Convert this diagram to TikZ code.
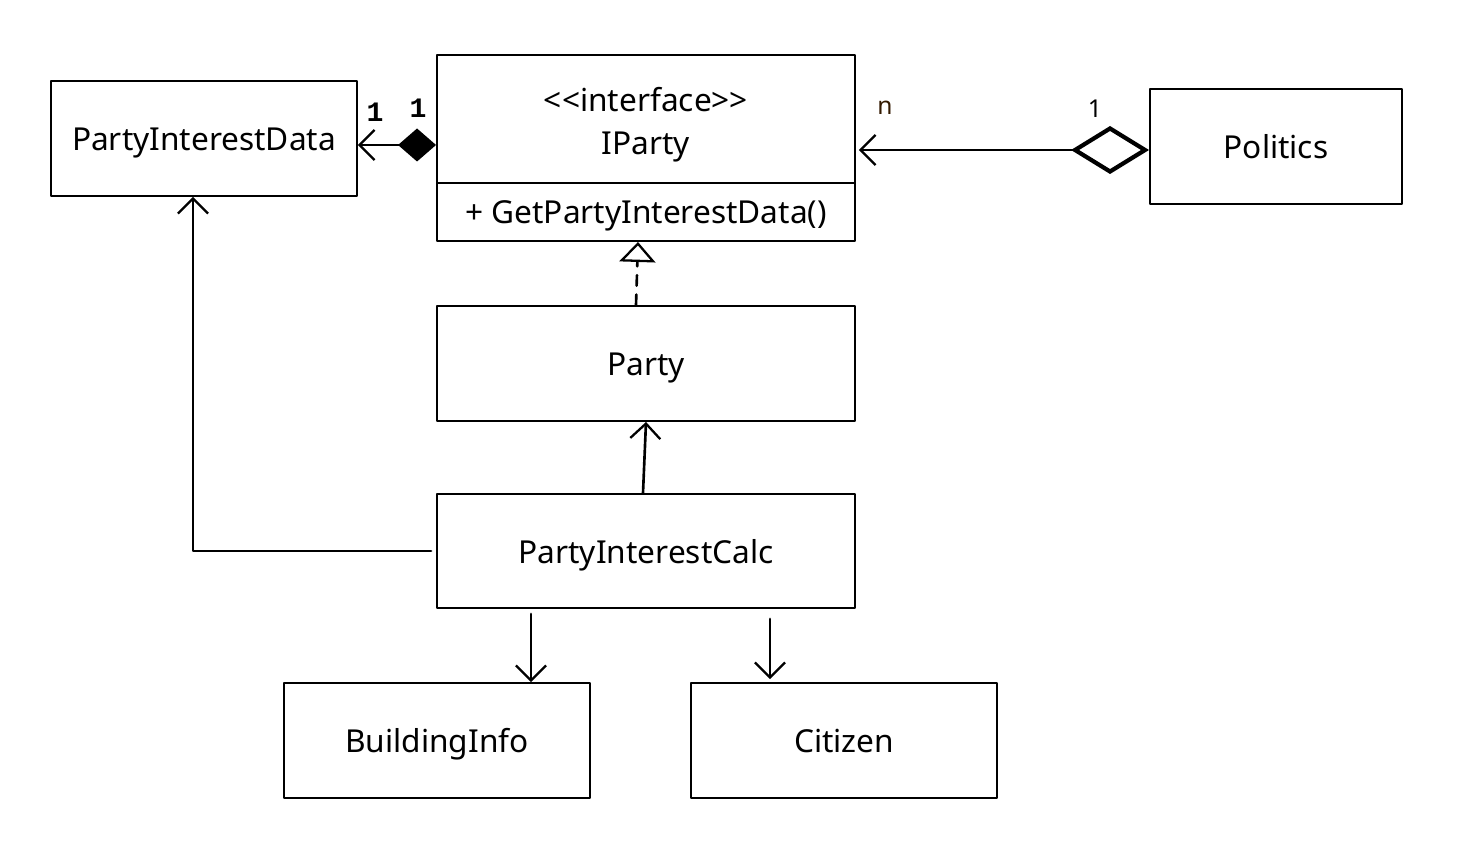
\documentclass[tikz,border=0pt]{standalone}
\usepackage{fontspec}
\setmainfont{Noto Sans}
\newfontfamily\monofont{Liberation Mono}
\usetikzlibrary{arrows.meta}
\usetikzlibrary{positioning}

\tikzset{
  cls/.style={draw,line width=1.1pt,minimum width=6.12cm,minimum height=2.3cm,inner sep=0pt,text height=1.4em,text depth=0pt,font=\fontsize{18}{21}\selectfont},
  widecls/.style={cls,minimum width=8.36cm},
  assoc/.style={line width=1.5pt,-{Straight Barb[length=0.3cm,width=0.6cm,line width=1.3pt]}},
  lbl/.style={font=\fontsize{14}{16}\selectfont}
}

\begin{document}
\begin{tikzpicture}[line cap=round,line join=round,x=1.0cm,y=1.0cm]
\useasboundingbox (0,0) rectangle (29.36,-17.36);
% classes
\node[cls] (data) at (4.08,-2.77) {PartyInterestData};
\node[widecls,minimum height=2.56cm,align=center,text height=,text depth=,font=\fontsize{18}{24.4}\selectfont] (iparty) at (12.92,-2.38)
  {\rule{0pt}{0.72cm}<{}<interface>{}>\\IParty};
\node[widecls,minimum height=1.16cm,text height=1.45em,text depth=0.1em,below=-1.1pt of iparty] (ipartyops) {+ GetPartyInterestData()};
\node[cls,minimum width=5.04cm] (politics) at (25.52,-2.93) {Politics};
\node[widecls] (party) at (12.92,-7.27) {Party};
\node[widecls,minimum height=2.28cm] (calc) at (12.92,-11.02) {PartyInterestCalc};
\node[cls] (building) at (8.74,-14.81) {BuildingInfo};
\node[cls] (citizen) at (16.88,-14.81) {Citizen};
% composition and aggregation
\draw[assoc,{Diamond[length=0.76cm,width=0.66cm]}-{Straight Barb[length=0.3cm,width=0.6cm,line width=1.3pt]}]
  (iparty.west |- 0,-2.9) -- (data.east |- 0,-2.9);
\node[lbl,font=\monofont\bfseries\fontsize{16}{18}\selectfont] (m1) at (7.5,-2.24) {1};
\node[lbl,font=\monofont\bfseries\fontsize{16}{18}\selectfont] (m2) at (8.36,-2.16) {1};
\draw[assoc,{Diamond[open,length=1.56cm,width=0.96cm,line width=2.4pt]}-{Straight Barb[length=0.3cm,width=0.6cm,line width=1.3pt]}]
  (politics.west |- 0,-3) -- ([xshift=0.06cm]iparty.east |- 0,-3);
\node[lbl,text=black!80!orange] (mn) at (17.7,-2.16) {n};
\node[lbl] (m3) at (21.9,-2.18) {1};
% realization
\draw[line width=1.5pt,dash pattern=on 6pt off 5pt,-{Triangle[open,length=0.4cm,width=0.72cm,line width=1.3pt]}]
  ([xshift=-0.2cm]party.north) -- ([xshift=-0.16cm]ipartyops.south);
% usages
\draw[assoc] ([xshift=-0.06cm]calc.north) -- (party.south);
\draw[assoc] ([xshift=-0.1cm]calc.west) -| ([xshift=-0.22cm]data.south);
\draw[assoc] ([yshift=-0.1cm]calc.south -| 10.62,0) -- (building.north -| 10.62,0);
\draw[assoc] ([yshift=-0.2cm]calc.south -| 15.4,0) -- ([yshift=0.06cm]citizen.north -| 15.4,0);
\end{tikzpicture}
\end{document}
